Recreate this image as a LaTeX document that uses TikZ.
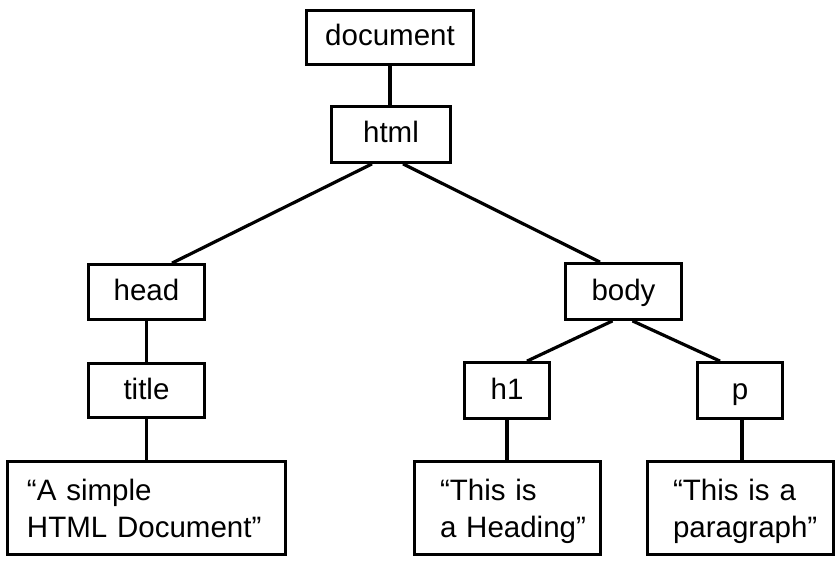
\documentclass[tikz,border=0pt]{standalone}
\usepackage{fontspec}
\setmainfont{Liberation Sans}
\begin{document}
\begin{tikzpicture}[x=1pt,y=-1pt,
  every node/.style={font=\fontsize{29.5}{37}\selectfont},
  tag/.style={draw, line width=3.3pt, inner sep=0pt, text height=22pt, text depth=5pt},
  leaf/.style={draw, line width=3.3pt, inner sep=0pt, align=left, text height=22pt, text depth=38pt},
  link/.style={line width=3.2pt}]
\useasboundingbox (0,0) rectangle (840,564);

% element nodes of the DOM tree
\node[tag, minimum width=166.5pt, minimum height=53.5pt] (document) at (390,37.5) {document};
\node[tag, minimum width=118.5pt, minimum height=55.5pt] (html) at (391,134.5) {html};
\node[tag, minimum width=115.5pt, minimum height=54.5pt] (head) at (146.5,292) {head};
\node[tag, minimum width=115.5pt, minimum height=53.5pt] (title) at (146.5,390.5) {title};
\node[tag, minimum width=115.5pt, minimum height=55.5pt] (body) at (623.5,291.5) {body};
\node[tag, minimum width=84.5pt, minimum height=55.5pt] (h1) at (507,390.5) {h1};
\node[tag, minimum width=84.5pt, minimum height=55.5pt] (p) at (740,390.5) {p};

% text nodes
\node[leaf, minimum width=277.5pt, minimum height=92.5pt, text width=239pt] (txt1) at (146.5,508) {“A simple\\\mbox{HTML Document”}};
\node[leaf, minimum width=185.5pt, minimum height=92.5pt, text width=135pt] (txt2) at (507.5,508) {\mbox{“This is}\\\mbox{a Heading”}};
\node[leaf, minimum width=185.5pt, minimum height=92.5pt, text width=135pt] (txt3) at (740.5,508) {\mbox{“This is a}\\\mbox{paragraph”}};

% parent-child links
\draw[link] (document.south) -- (document.south |- html.north);
\draw[link] ([xshift=-19pt]html.south) -- ([xshift=25.5pt]head.north);
\draw[link] ([xshift=12pt]html.south) -- ([xshift=-23.5pt]body.north);
\draw[link] (head.south) -- (title.north);
\draw[link] (title.south) -- (title.south |- txt1.north);
\draw[link] ([xshift=-11pt]body.south) -- ([xshift=20pt]h1.north);
\draw[link] ([xshift=9pt]body.south) -- ([xshift=-20pt]p.north);
\draw[link] (h1.south) -- (h1.south |- txt2.north);
\draw[link] ([xshift=2pt]p.south) -- ([xshift=2pt]p.south |- txt3.north);
\end{tikzpicture}
\end{document}
